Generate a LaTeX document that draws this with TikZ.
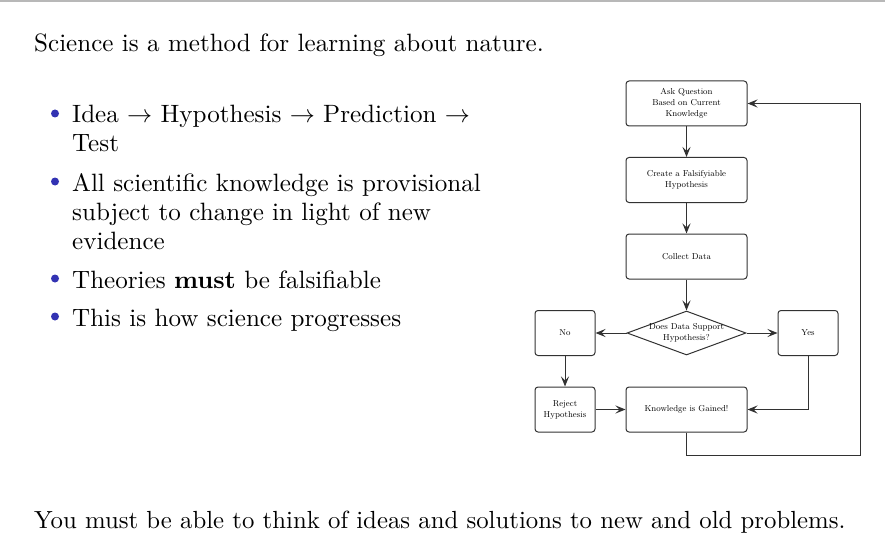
\documentclass[tikz,border=0pt]{standalone}
\usepackage{graphicx}
\usetikzlibrary{arrows.meta,shapes.geometric}
\definecolor{bulletblue}{RGB}{51,51,179}
\definecolor{boxline}{RGB}{50,50,50}
% slide body text: 11pt type enlarged to the slide size
\newcommand{\slidetextat}[2]{\scalebox{#1}{\fontsize{10.95}{13.6}\selectfont #2}}
\newcommand{\slidetext}[1]{\slidetextat{2.29}{#1}}
\newcommand{\boxsize}{\fontsize{8.6}{11}\selectfont}
\begin{document}
\begin{tikzpicture}[x=1pt,y=-1pt,
  body/.style={anchor=base west,inner sep=0},
  dot/.style={circle,fill=bulletblue,inner sep=0,minimum size=8pt},
  stepbox/.style={draw=boxline,line width=1pt,rounded corners=3pt,
    minimum width=121pt,minimum height=45pt,inner sep=2pt,align=center,font=\boxsize},
  smallbox/.style={stepbox,minimum width=60pt},
  decision/.style={draw=boxline,line width=1pt,diamond,inner sep=0,
    minimum width=119pt,minimum height=44pt},
  flow/.style={draw=boxline,line width=1pt,
    -{Stealth[length=10pt,width=8pt,inset=4pt]}}]
\useasboundingbox (0,0) rectangle (885,540);
\draw[black!28,line width=1.6pt] (0,0.8) -- (885,0.8);

% slide text
\node[body] (intro) at (34,52) {\slidetext{Science is a method for learning about nature.}};
\node[dot] (b1) at (55,113.5) {};
\node[body] (l1a) at (72,123) {\slidetext{Idea $\rightarrow$ Hypothesis $\rightarrow$ Prediction $\rightarrow$}};
\node[body] (l1b) at (72,152) {\slidetext{Test}};
\node[dot] (b2) at (55,181.5) {};
\node[body] (l2a) at (72,191) {\slidetext{All scientific knowledge is provisional}};
\node[body] (l2b) at (72,220) {\slidetext{subject to change in light of new}};
\node[body] (l2c) at (72,249) {\slidetext{evidence}};
\node[dot] (b3) at (55,278.5) {};
\node[body] (l3) at (72,288) {\slidetext{Theories \textbf{must} be falsifiable}};
\node[dot] (b4) at (55,316.5) {};
\node[body] (l4) at (72,326) {\slidetext{This is how science progresses}};
\node[body] (outro) at (34,528) {\slidetextat{2.262}{You must be able to think of ideas and solutions to new and old problems.}};

% flowchart
\node[stepbox] (ask) at (686.5,103.5) {Ask Question\\Based on Current\\Knowledge};
\node[stepbox] (hyp) at (686.5,180) {Create a Falsifyiable\\Hypothesis};
\node[stepbox] (data) at (686.5,256.5) {Collect Data};
\node[decision] (dec) at (686.5,333) {};
\node[align=center,font=\boxsize,inner sep=0] (dectext) at (686.5,333) {Does Data Support\\Hypothesis?};
\node[smallbox] (no) at (565,333) {No};
\node[smallbox] (yes) at (808,333) {Yes};
\node[smallbox] (rej) at (565,409.5) {Reject\\Hypothesis};
\node[stepbox] (gain) at (686.5,409.5) {Knowledge is Gained!};
\coordinate (loop) at (860,455);

\draw[flow] (ask) -- (hyp);
\draw[flow] (hyp) -- (data);
\draw[flow] (data) -- (dec);
\draw[flow] (dec) -- (no);
\draw[flow] (dec) -- (yes);
\draw[flow] (no) -- (rej);
\draw[flow] (rej) -- (gain);
\draw[flow] (yes.south) |- (gain.east);
\draw[flow] (gain.south) |- (loop) |- (ask.east);
\end{tikzpicture}
\end{document}
